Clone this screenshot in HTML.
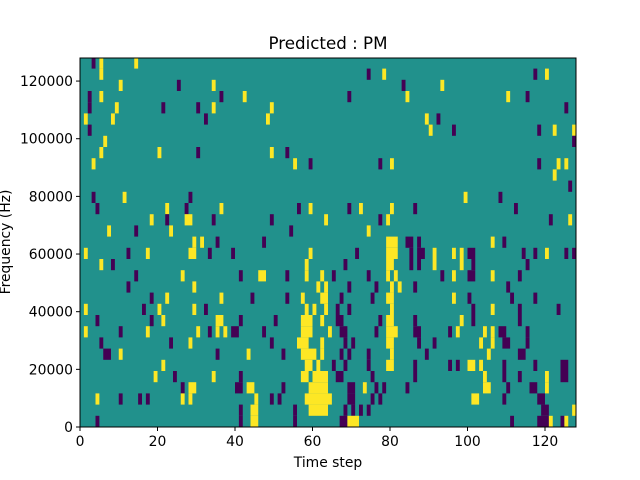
<!DOCTYPE html>
<html><head><meta charset="utf-8"><style>
html,body{margin:0;padding:0;background:#fff;}
svg{display:block;}
text{font-family:"DejaVu Sans","Liberation Sans",sans-serif;fill:#000;}
</style></head><body>
<svg id="s" width="640" height="480" viewBox="0 0 640 480" xmlns="http://www.w3.org/2000/svg">
<defs><clipPath id="c"><rect x="80" y="58" width="496" height="369"/></clipPath></defs>
<rect x="0" y="0" width="640" height="480" fill="#fff"/>
<g id="cells" clip-path="url(#c)"><rect x="80" y="58" width="496" height="369" fill="#21918c"/></g>
<rect x="80" y="58" width="496" height="369" fill="none" stroke="#000" stroke-width="1"/>
<g id="ticks" stroke="#000" stroke-width="1"></g>
<g id="labels" font-size="13.9"></g>
<text x="328" y="49" font-size="16.7" text-anchor="middle">Predicted : PM</text>
<text x="328" y="467" font-size="13.9" text-anchor="middle">Time step</text>
<text transform="translate(10,242) rotate(-90)" font-size="13.9" text-anchor="middle">Frequency (Hz)</text>
</svg>
<script>
var rows=[
"p3 y5 y14",
"y5 p74 y78 p117 y120",
"y10 p25 y34 p83 y93",
"p2 y5 p36 y42 p69 y84 y110 p115",
"p2 y9 p21 p30 y34 y49 p125",
"y1 y8 p32 y48 y89 p92",
"p2 y90 p96 p118 y122 y127",
"y6 p127",
"y5 y20 p30 y49 p53",
"y3 y55 p59 p77 y80 p118 y123 y125",
"y122",
"p126",
"p3 y11 p28 y99 p108",
"p4 y22 p27 y36 p56 y59 p69 y72 y80 p86 p112",
"y18 p22 y27-28 p34 p49 y63 p77 y79 p121 y126",
"y7 p14 y23 p54 y74",
"y29 y31 p35 p47 y79-81 p84-85 p87 y106 p109",
"y1 p12 y17 y28-29 p33 p39 y59 p71 y79-81 p85 p87 p88 y91 y96 y98 p100-101 p114 p117 y120 p125 p127",
"y5 p8 y58 p68 y79-80 p85 p87 y91 y98 p101 p115",
"p14 y26 p41 y46-47 p53 y58 y62 p65 p74 y79 y81 p93 y96 p100-101 y106 p113",
"p12 y29 y61 y63 p69 p76 y80 y82 p86 p110",
"p18 y22 y36 p44 p53 y57 y62-63 p67 p75 y79-80 y96 p100 p111 p117",
"y1 p16 y20 y29 p32 y58 y60 y63 p66 p69 y80 p101 y106 p113 p123",
"p4 p18 y21 y35-36 p41 p50 y57-59 y62 p66-67 p77 y79-80 p86 y98 p101 p113",
"y1 p10 y17 y30 p33 y35 y37 p39-40 p47 y57-59 y64 p67-68 p76 y79-81 p86-87 p95 y97 y104 y106 p108-109 p115",
"p5 p23 y28 p49 y56-58 y62 p68 p70 y79-80 p87 p91 y103 y106 p109-110 p115",
"p6-7 y10 p35 y43 p52 y57-60 y62 p67 p69 p74 y80 p89 y105 p113-114",
"y21 y58-59 y61 p65 p68 p74 y79-80 p86 p95 p97 y100-101 y103 p109 p117 p124-125",
"y19 p24 y34 p41 y57-58 y60-63 p66-67 p75 p86 y104 p109 p113 y120 p124-125",
"p26 y28-29 p40-41 y43-44 p52 y59-63 p69-70 y73 p76 p78 p84 y104-105 p110 p116-117 y120",
"y4 p10 p15 p17 y26 y28 y45 p49 p51 y58-64 p69-70 p75 p77 y101-102 p109 p118-119",
"p41 y44-45 p55 y59-63 p68 p70 p72 p74 p119-120 y127",
"p4 p41 y44-45 p55 p67-68 y69-71 p111 p118-120 y121 p124 y125"
];
var NS="http://www.w3.org/2000/svg";
var g=document.getElementById("cells");
var cw=496/128, rh=11.2;
rows.forEach(function(r,t){
  var top=427-rh*(33-t);
  r.split(" ").forEach(function(tok){
    if(!tok)return;
    var c=tok[0]=="y"?"#fde725":"#440154";
    var p=tok.slice(1).split("-");
    var a=+p[0], b=p.length>1?+p[1]:a;
    var e=document.createElementNS(NS,"rect");
    e.setAttribute("x",(80+a*cw).toFixed(2));
    e.setAttribute("y",top.toFixed(2));
    e.setAttribute("width",((b-a+1)*cw).toFixed(2));
    e.setAttribute("height",rh.toFixed(2));
    e.setAttribute("fill",c);
    g.appendChild(e);
  });
});
var tk=document.getElementById("ticks"), lb=document.getElementById("labels");
function line(x1,y1,x2,y2){var e=document.createElementNS(NS,"line");e.setAttribute("x1",x1);e.setAttribute("y1",y1);e.setAttribute("x2",x2);e.setAttribute("y2",y2);tk.appendChild(e);}
function txt(x,y,s,anc){var e=document.createElementNS(NS,"text");e.setAttribute("x",x);e.setAttribute("y",y);e.setAttribute("text-anchor",anc);e.textContent=s;lb.appendChild(e);}
for(var i=0;i<=6;i++){var x=80+i*77.5;line(x,427,x,431);txt(x,446,String(i*20),"middle");}
for(var j=0;j<=6;j++){var v=j*20000;var y=427-v/128000*369;line(76,y,80,y);txt(73,y+5,String(v),"end");}
</script>
</body></html>
